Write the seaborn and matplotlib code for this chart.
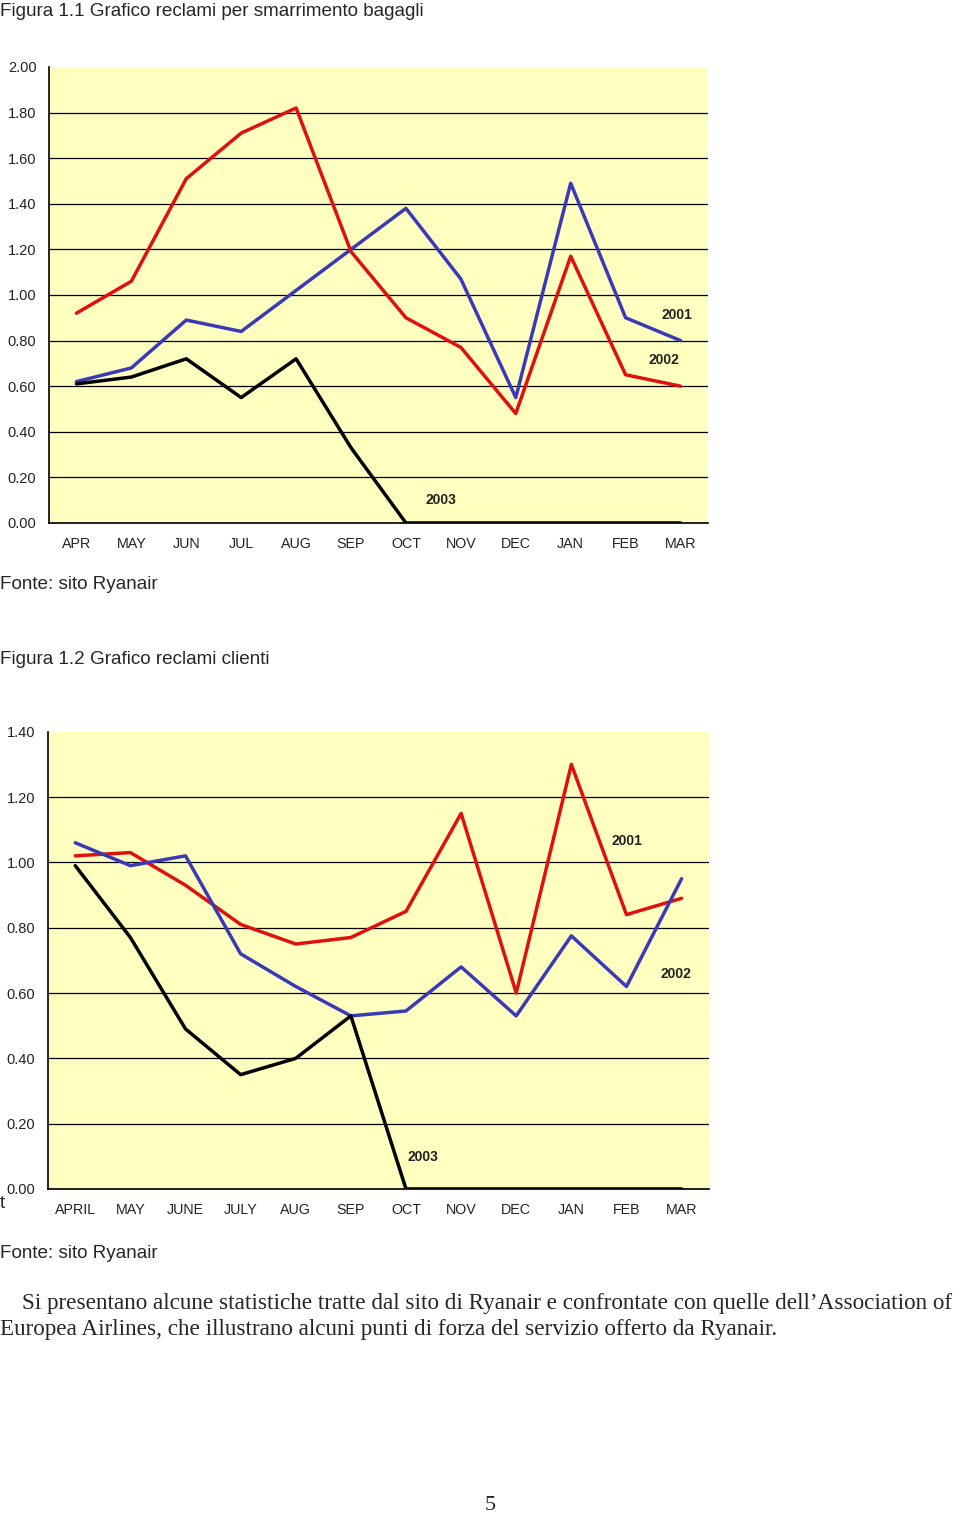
import pandas as pd
import seaborn as sns
import matplotlib.pyplot as plt
import numpy as np

# Dati
mesi_1 = ['APR', 'MAY', 'JUN', 'JUL', 'AUG', 'SEP', 'OCT', 'NOV', 'DEC', 'JAN', 'FEB', 'MAR']
bagagli_2001 = [0.62, 0.68, 0.89, 0.84, 1.02, 1.20, 1.38, 1.07, 0.55, 1.49, 0.90, 0.80]
bagagli_2002 = [0.92, 1.06, 1.51, 1.71, 1.82, 1.19, 0.90, 0.77, 0.48, 1.17, 0.65, 0.60]
bagagli_2003 = [0.61, 0.64, 0.72, 0.55, 0.72, 0.33, 0.00, 0.00, 0.00, 0.00, 0.00, 0.00]

mesi_2 = ['APRIL', 'MAY', 'JUNE', 'JULY', 'AUG', 'SEP', 'OCT', 'NOV', 'DEC', 'JAN', 'FEB', 'MAR']
clienti_2001 = [1.02, 1.03, 0.93, 0.81, 0.75, 0.77, 0.85, 1.15, 0.60, 1.30, 0.84, 0.89]
clienti_2002 = [1.06, 0.99, 1.02, 0.72, 0.62, 0.53, 0.545, 0.68, 0.53, 0.775, 0.62, 0.95]
clienti_2003 = [0.99, 0.77, 0.49, 0.35, 0.40, 0.53, 0.00, 0.00, 0.00, 0.00, 0.00, 0.00]

ROSSO = '#e01010'
BLU = '#3a3ab8'
NERO = '#000000'
GIALLO = '#ffffc0'

sns.set_style('white')
plt.rcParams['font.family'] = ['Liberation Sans', 'DejaVu Sans']


def to_long(mesi, serie):
    df = pd.DataFrame({'idx': np.arange(len(mesi)), 'mese': mesi})
    for anno, vals in serie.items():
        df[anno] = vals
    return df.melt(id_vars=['idx', 'mese'], var_name='anno', value_name='valore')


def disegna(ax, mesi, serie, palette, ymax, etichette):
    df = to_long(mesi, serie)
    sns.lineplot(data=df, x='idx', y='valore', hue='anno', palette=palette,
                 linewidth=2.5, legend=False, ax=ax)
    ax.set_facecolor(GIALLO)
    ax.set_xlim(-0.5, len(mesi) - 0.5)
    ax.set_ylim(0, ymax)
    yt = np.arange(0, ymax + 0.001, 0.2)
    ax.set_yticks(yt)
    ax.set_yticklabels([f'{v:.2f}' for v in yt])
    ax.yaxis.grid(True, color='black', linewidth=0.9)
    # niente linea di griglia sul bordo superiore
    ax.get_ygridlines()[-1].set_visible(False)
    ax.set_axisbelow(True)
    # tacche tra le categorie, etichette al centro
    ax.set_xticks(np.arange(len(mesi) + 1) - 0.5)
    ax.set_xticklabels([])
    ax.set_xticks(np.arange(len(mesi)), minor=True)
    ax.set_xticklabels(mesi, minor=True)
    ax.tick_params(axis='x', which='major', direction='out', length=5, width=1, color='black')
    ax.tick_params(axis='x', which='minor', length=0, pad=10, labelsize=10.3, labelcolor='#222222')
    ax.tick_params(axis='y', direction='out', length=4, width=1, color='black',
                   labelsize=10.5, labelcolor='#222222', pad=5)
    for s in ['top', 'right']:
        ax.spines[s].set_visible(False)
    for s in ['left', 'bottom']:
        ax.spines[s].set_color('black')
        ax.spines[s].set_linewidth(1.2)
    ax.set_xlabel('')
    ax.set_ylabel('')
    for testo, x, y in etichette:
        ax.text(x, y, testo, fontsize=10, fontweight='bold', color='#222222',
                ha='center', va='center')


fig = plt.figure(figsize=(9.6, 15.15), dpi=100)

ax1 = fig.add_axes([0.051, 0.6548, 0.6865, 0.301])
disegna(ax1, mesi_1,
        {'2001': bagagli_2001, '2002': bagagli_2002, '2003': bagagli_2003},
        {'2001': BLU, '2002': ROSSO, '2003': NERO}, 2.0,
        [('2001', 10.94, 0.91), ('2002', 10.7, 0.715), ('2003', 6.64, 0.10)])

ax2 = fig.add_axes([0.0497, 0.2152, 0.689, 0.3018])
disegna(ax2, mesi_2,
        {'2001': clienti_2001, '2002': clienti_2002, '2003': clienti_2003},
        {'2001': ROSSO, '2002': BLU, '2003': NERO}, 1.4,
        [('2001', 10.0, 1.066), ('2002', 10.9, 0.658), ('2003', 6.3, 0.098)])

H = 1515.0


def testo(x, y, s, **kw):
    fig.text(x / 960.0, 1 - y / H, s, va='center', **kw)


testo(0, 11, 'Figura 1.1 Grafico reclami per smarrimento bagagli', fontsize=13.6)
testo(0, 584, 'Fonte: sito Ryanair', fontsize=13.6)
testo(0, 659, 'Figura 1.2 Grafico reclami clienti', fontsize=13.6)
testo(0, 1203, 't', fontsize=13.6)
testo(0, 1254, 'Fonte: sito Ryanair', fontsize=13.6)

serif = ['Liberation Serif', 'DejaVu Serif']
testo(22, 1304, 'Si presentano alcune statistiche tratte dal sito di Ryanair e confrontate con quelle dell\u2019Association of',
      fontsize=16.7, family=serif)
testo(0, 1330, 'Europea Airlines, che illustrano alcuni punti di forza del servizio offerto da Ryanair.',
      fontsize=16.7, family=serif)
testo(490, 1505, '5', fontsize=16, family=serif, ha='center')

plt.savefig('out.png', dpi=100)
